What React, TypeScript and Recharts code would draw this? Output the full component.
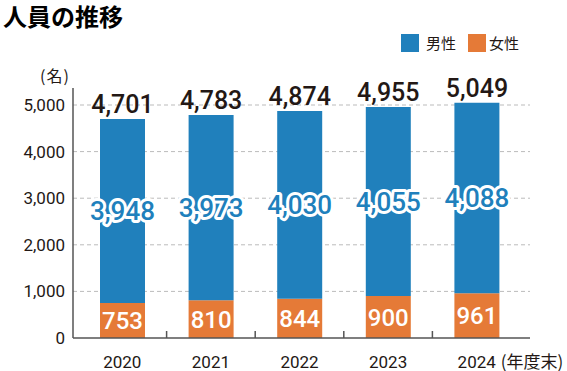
import { Bar, BarChart, CartesianGrid, LabelList, XAxis, YAxis } from "recharts"

const years = ["2020", "2021", "2022", "2023", "2024"]
const male = [3948, 3973, 4030, 4055, 4088]
const female = [753, 810, 844, 900, 961]
const totals = [4701, 4783, 4874, 4955, 5049]
const yTicks = [0, 1000, 2000, 3000, 4000, 5000]

const BLUE = "#2080bc"
const ORANGE = "#e57a37"
const DARK = "#231815"
const NUM_FONT = "Roboto, 'Noto Sans CJK JP', sans-serif"
const JP_FONT = "'Noto Sans CJK JP', sans-serif"

const data = years.map((y, i) => ({ year: y, male: male[i], female: female[i], total: totals[i] }))

const fmt = (v: any) => Number(v).toLocaleString("en-US")

function XTick(props: any) {
    const { x, y, payload, index } = props
    const off = payload.offset || 0
    return (
        <g>
            <text x={x} y={y + 30} textAnchor="middle" fill={DARK} fontSize={17} fontFamily={NUM_FONT}>
                {payload.value}
            </text>
            {index < years.length - 1 && (
                <line x1={x + off} x2={x + off} y1={y} y2={y - 7} stroke="#555" strokeWidth={1.5} />
            )}
            {index === years.length - 1 && (
                <text x={x + 24} y={y + 30} fill={DARK} fontSize={17} fontFamily={JP_FONT}>
                    (年度末)
                </text>
            )}
        </g>
    )
}

export default function App() {
    return (
        <div style={{ position: "absolute", left: 0, top: 0, width: 567, height: 371, background: "#fff" }}>
            <div style={{ position: "absolute", left: 3, top: 0, fontFamily: JP_FONT, fontWeight: 700, fontSize: 24, color: "#000", lineHeight: "32px" }}>
                人員の推移
            </div>
            <div style={{ position: "absolute", left: 401, top: 32, display: "flex", alignItems: "center", fontFamily: JP_FONT, fontSize: 15, color: DARK }}>
                <span style={{ width: 18, height: 18, background: BLUE, display: "inline-block", marginRight: 7 }} />
                <span style={{ marginRight: 12 }}>男性</span>
                <span style={{ width: 18, height: 18, background: ORANGE, display: "inline-block", marginRight: 3 }} />
                <span>女性</span>
            </div>
            <div style={{ position: "absolute", left: 40, top: 63, fontFamily: JP_FONT, fontSize: 16, letterSpacing: 1, color: DARK }}>
                (名)
            </div>
            <div style={{ position: "absolute", left: 0, top: 0 }}>
                <BarChart width={567} height={371} data={data} margin={{ top: 88, right: 37, bottom: 0, left: 0 }}>
                    <CartesianGrid vertical={false} stroke="#bbb" strokeDasharray="4 3" horizontalValues={[1000, 2000, 3000, 4000, 5000]} />
                    <XAxis
                        dataKey="year"
                        height={33}
                        stroke="#555"
                        strokeWidth={1.5}
                        tickLine={false}
                        tickSize={0}
                        tickMargin={0}
                        tick={<XTick />}
                        interval={0}
                        padding={{ left: 5, right: 9 }}
                    />
                    <YAxis
                        width={73}
                        domain={[0, 5365]}
                        ticks={yTicks}
                        stroke="#555"
                        strokeWidth={1.5}
                        tickLine={false}
                        tickFormatter={fmt}
                        tick={{ fill: DARK, fontSize: 17, fontFamily: NUM_FONT }}
                        interval={0}
                    />
                    <Bar dataKey="female" stackId="a" fill={ORANGE} barSize={45} isAnimationActive={false}>
                        <LabelList dataKey="female" position="center" fill="#fff" fontSize={24} fontWeight={500} fontFamily={NUM_FONT} formatter={fmt} />
                    </Bar>
                    <Bar dataKey="male" stackId="a" fill={BLUE} barSize={45} isAnimationActive={false}>
                        <LabelList
                            dataKey="male"
                            position="center"
                            fill={BLUE}
                            stroke="#fff"
                            strokeWidth={6}
                            strokeLinejoin="round"
                            paintOrder="stroke"
                            fontSize={26}
                            fontWeight={500}
                            fontFamily={NUM_FONT}
                            formatter={fmt}
                        />
                        <LabelList dataKey="total" position="top" offset={6} fill={DARK} fontSize={25} fontWeight={500} fontFamily={NUM_FONT} formatter={fmt} />
                    </Bar>
                </BarChart>
            </div>
        </div>
    )
}
